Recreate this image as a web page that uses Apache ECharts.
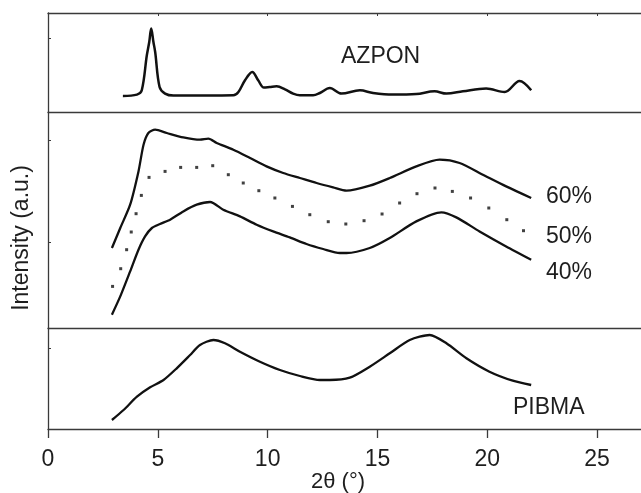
<!DOCTYPE html>
<html>
<head>
<meta charset="utf-8">
<script src="https://cdn.jsdelivr.net/npm/echarts@6/dist/echarts.min.js"></script>
<style>html,body{margin:0;padding:0;background:#fff;}#c{width:641px;height:493px;}</style>
</head>
<body>
<div id="c"></div>
<script>
// x tick labels
const xTickValues = [0, 5, 10, 15, 20, 25];

// AZPON (top panel)
const azponTheta = [3.41, 4.05, 4.27, 4.5, 4.61, 4.70, 4.8, 4.88, 5.08, 5.33, 5.71, 8.44, 8.67, 8.97, 9.30, 9.57, 9.83, 10.1, 10.41, 10.79, 11.16, 11.47, 12.07, 12.38, 12.83, 13.36, 14.2, 14.8, 15.7, 16.77, 17.6, 18.14, 18.89, 19.95, 20.79, 21.47, 22.0];
const azponI     = [16, 17.4, 21.7, 56.7, 70, 83.4, 70, 60, 25, 18.4, 16.4, 16.7, 20, 31.7, 40, 31.7, 24.4, 25, 25.7, 22.7, 18.4, 16.7, 16.7, 19, 24, 18.4, 21.7, 19, 17.4, 18, 20.7, 18.4, 20.7, 23.4, 20, 31, 21.7];

// 60 % (middle panel, upper curve)
const p60Theta = [2.91, 3.29, 3.74, 4.12, 4.35, 4.57, 4.88, 5.41, 6.16, 6.92, 7.3, 7.68, 8.44, 9.2, 9.95, 10.71, 11.47, 12.23, 12.98, 13.59, 14.65, 15.56, 16.77, 17.83, 18.74, 19.8, 20.86, 22.0];
const p60I     = [80, 100, 123.3, 156.6, 183.3, 195, 198.3, 195, 190.6, 188.3, 189.3, 185, 178.3, 170, 161.6, 155, 150, 145, 140.6, 137.3, 142.3, 150, 161.6, 168.3, 165, 153.3, 141.6, 130];

// 50 % (middle panel, dotted)
const p50Theta = [2.94, 3.31, 3.58, 3.79, 4.01, 4.25, 4.6, 5.33, 6.04, 6.77, 7.5, 8.21, 8.89, 9.6, 10.33, 11.13, 11.92, 12.76, 13.56, 14.39, 15.21, 16.01, 16.8, 17.62, 18.41, 19.24, 20.07, 20.89, 21.65];
const p50I     = [41.6, 59.3, 78.3, 96, 114.3, 132.6, 150.6, 156.6, 160.6, 160.6, 162.3, 153.3, 145, 137.3, 130, 121.6, 113.3, 106.3, 104, 107.3, 114, 125, 134.3, 140, 136.6, 130, 120, 108.3, 97.3];

// 40 % (middle panel, lower curve)
const p40Theta = [2.91, 3.29, 3.74, 4.12, 4.42, 4.73, 5.1, 5.56, 6.16, 6.77, 7.38, 7.98, 8.74, 9.5, 10.25, 11.01, 11.77, 12.53, 13.29, 13.59, 14.65, 15.56, 16.77, 17.91, 18.59, 19.65, 20.86, 22.0];
const p40I     = [13.3, 31.6, 56.6, 78.3, 91.6, 100, 104, 108.3, 116.6, 123.3, 126, 118.3, 111.6, 103.3, 96.6, 90.6, 84, 79, 75, 75, 80, 90, 106.6, 115.6, 110.6, 96.6, 81.6, 68.3];

// PIBMA (bottom panel)
const pibmaTheta = [2.91, 3.44, 4.05, 4.65, 5.26, 5.86, 6.47, 6.92, 7.53, 8.06, 8.74, 9.65, 10.56, 11.47, 12.38, 12.83, 13.74, 14.65, 15.56, 16.47, 17.38, 18.14, 19.05, 20.1, 21.16, 22.0];
const pibmaI     = [9, 19, 32.3, 41.7, 49, 60.7, 74, 84, 89, 85.7, 77.3, 67.3, 59, 53, 49, 49, 51.3, 62.3, 75.7, 89, 94, 85.7, 70.7, 57.3, 48.3, 44];

// left-axis inner tick values (per panel)
const topYTicks = [73.4];
const midYTicks = [85.6, 187.6];
const botYTicks = [81];

const pairs = (xs, ys) => xs.map((x, i) => [x, ys[i]]);

const frameColor = '#3a3a3a';
const inkColor = '#111';
const textColor = '#1e1e1e';
const FONT = '"Liberation Sans", Arial, Helvetica, sans-serif';
const FS = 23;

const L = 48;
const grids = [
  { left: L, right: 0, top: 13, height: 99 },
  { left: L, right: 0, top: 112, height: 216 },
  { left: L, right: 0, top: 328, height: 101 }
];

function xAx(grid, pos, opts) {
  return Object.assign({
    type: 'value', gridIndex: grid, position: pos, min: 0, max: 27,
    axisLine: { show: true, onZero: false, lineStyle: { color: frameColor, width: 1.3 } },
    axisTick: { show: false },
    axisLabel: { show: false },
    splitLine: { show: false }
  }, opts || {});
}
function yAx(grid, max, ticks) {
  return {
    type: 'value', gridIndex: grid, min: 0, max: max,
    axisLine: { show: true, onZero: false, lineStyle: { color: frameColor, width: 1.3 } },
    axisTick: { show: true, inside: true, length: 3, customValues: ticks, lineStyle: { color: frameColor } },
    axisLabel: { show: false },
    splitLine: { show: false }
  };
}

const chart = echarts.init(document.getElementById('c'), null, { renderer: 'canvas' });
chart.setOption({
  animation: false,
  backgroundColor: '#fff',
  grid: grids,
  xAxis: [
    xAx(0, 'bottom'),
    xAx(0, 'top', { axisTick: { show: true, inside: true, length: 3, customValues: xTickValues, lineStyle: { color: frameColor } } }),
    xAx(1, 'bottom'),
    xAx(2, 'bottom', {
      axisTick: { show: true, inside: false, length: 9, customValues: xTickValues, lineStyle: { color: frameColor, width: 1.3 } },
      axisLabel: { show: true, customValues: xTickValues, margin: 19, fontSize: FS, fontFamily: FONT, color: textColor }
    })
  ],
  yAxis: [
    yAx(0, 99, topYTicks),
    yAx(1, 216, midYTicks),
    yAx(2, 101, botYTicks)
  ],
  series: [
    { type: 'line', xAxisIndex: 0, yAxisIndex: 0, data: pairs(azponTheta, azponI), showSymbol: false, smooth: 0.35,
      lineStyle: { color: inkColor, width: 2.5 } },
    { type: 'line', xAxisIndex: 2, yAxisIndex: 1, data: pairs(p60Theta, p60I), showSymbol: false, smooth: 0.25,
      lineStyle: { color: inkColor, width: 2.3 } },
    { type: 'scatter', xAxisIndex: 2, yAxisIndex: 1, data: pairs(p50Theta, p50I), symbol: 'rect', symbolSize: 3,
      itemStyle: { color: inkColor } },
    { type: 'line', xAxisIndex: 2, yAxisIndex: 1, data: pairs(p40Theta, p40I), showSymbol: false, smooth: 0.25,
      lineStyle: { color: inkColor, width: 2.3 } },
    { type: 'line', xAxisIndex: 3, yAxisIndex: 2, data: pairs(pibmaTheta, pibmaI), showSymbol: false, smooth: 0.25,
      lineStyle: { color: inkColor, width: 2.3 } }
  ],
  graphic: [
    { type: 'text', x: 341, y: 57, style: { text: 'AZPON', font: FS + 'px ' + FONT, fill: textColor, verticalAlign: 'middle' } },
    { type: 'text', x: 546, y: 197, style: { text: '60%', font: FS + 'px ' + FONT, fill: textColor, verticalAlign: 'middle' } },
    { type: 'text', x: 546, y: 237, style: { text: '50%', font: FS + 'px ' + FONT, fill: textColor, verticalAlign: 'middle' } },
    { type: 'text', x: 546, y: 273, style: { text: '40%', font: FS + 'px ' + FONT, fill: textColor, verticalAlign: 'middle' } },
    { type: 'text', x: 513, y: 408, style: { text: 'PIBMA', font: FS + 'px ' + FONT, fill: textColor, verticalAlign: 'middle' } },
    { type: 'text', x: 22, y: 238, rotation: Math.PI / 2, style: { text: 'Intensity (a.u.)', font: FS + 'px ' + FONT, fill: textColor, align: 'center', verticalAlign: 'middle' } },
    { type: 'text', x: 338, y: 482, style: { text: '2θ (°)', font: (FS - 1) + 'px ' + FONT, fill: textColor, align: 'center', verticalAlign: 'middle' } }
  ]
});
</script>
</body>
</html>
